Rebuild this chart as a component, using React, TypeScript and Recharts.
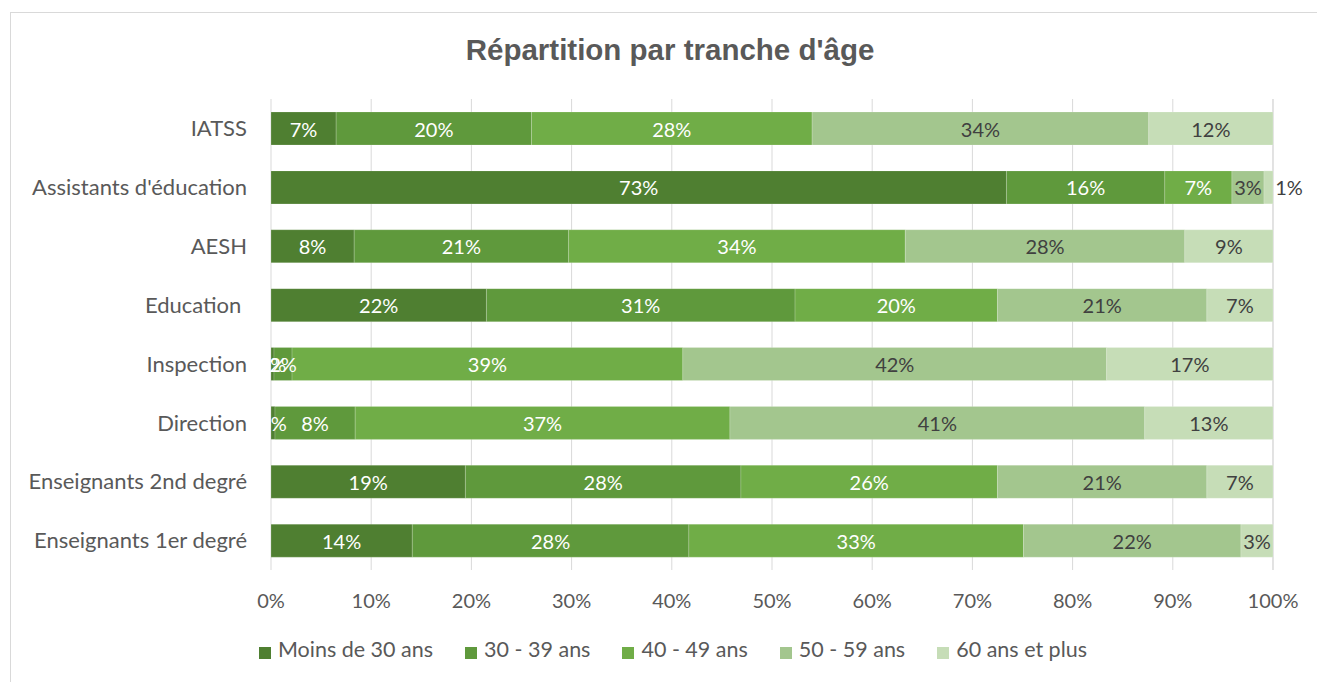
import { BarChart, Bar, XAxis, YAxis, CartesianGrid, Legend, LabelList } from 'recharts';

const categories = [
  'IATSS',
  "Assistants d'éducation",
  'AESH',
  'Education\u00a0',
  'Inspection',
  'Direction',
  'Enseignants 2nd degré',
  'Enseignants 1er degré',
];

const moins30 = [6.5, 73.4, 8.3, 21.5, 0.3, 0.4, 19.4, 14.1];
const ans30a39 = [19.5, 15.8, 21.4, 30.8, 1.8, 8.0, 27.5, 27.6];
const ans40a49 = [28.0, 6.7, 33.6, 20.2, 39.0, 37.4, 25.6, 33.4];
const ans50a59 = [33.6, 3.2, 27.9, 20.9, 42.3, 41.4, 20.9, 21.7];
const ans60plus = [12.4, 0.9, 8.8, 6.6, 16.6, 12.8, 6.6, 3.2];

const xTicks = [0, 10, 20, 30, 40, 50, 60, 70, 80, 90, 100];

const SERIES = [
  { key: 'moins30', name: 'Moins de 30 ans', values: moins30, color: '#4F7F31', label: '#ffffff' },
  { key: 'a30', name: '30 - 39 ans', values: ans30a39, color: '#5F993C', label: '#ffffff' },
  { key: 'a40', name: '40 - 49 ans', values: ans40a49, color: '#70AD47', label: '#ffffff' },
  { key: 'a50', name: '50 - 59 ans', values: ans50a59, color: '#A3C68E', label: '#404040' },
  { key: 'a60', name: '60 ans et plus', values: ans60plus, color: '#C6DDB7', label: '#404040' },
];

const data = categories.map((cat, i) => {
  const row: Record<string, string | number> = { cat };
  SERIES.forEach((s) => { row[s.key] = s.values[i]; });
  return row;
});

const FONT = 'Lato, "Open Sans", sans-serif';
const TEXT = '#595959';

const pct = (v: number) => `${Math.round(v)}%`;

// centred value label; very thin segments of the last series get nudged right
const makeLabel = (fill: string, nudge: boolean) => (props: any) => {
  const { x, y, width, height, value } = props;
  let cx = Number(x) + Number(width) / 2;
  if (nudge && Number(width) < 12) cx = Number(x) + Number(width) + 16;
  return (
    <text x={cx} y={Number(y) + Number(height) / 2} fill={fill} fontSize={20} fontFamily={FONT}
      textAnchor="middle" dominantBaseline="central">
      {pct(Number(value))}
    </text>
  );
};

const legendOrder = (item: any) => SERIES.findIndex((s) => s.name === item.value);

export default function App() {
  return (
    <div style={{ position: 'absolute', left: 10, top: 12, width: 1307, height: 680, borderTop: '1px solid #d9d9d9', borderLeft: '1px solid #d9d9d9', background: '#fff' }}>
      <div style={{ position: 'absolute', top: 20, left: 0, width: 1318, textAlign: 'center', fontFamily: '"Liberation Sans", Arial, sans-serif', fontWeight: 'bold', fontSize: 29.5, color: TEXT }}>
        Répartition par tranche d'âge
      </div>
      <BarChart width={1306} height={668} data={data} layout="vertical" barSize={33}
        margin={{ top: 86, right: 44, left: 0, bottom: 19 }}>
        <CartesianGrid horizontal={false} stroke="#d9d9d9" />
        <XAxis type="number" domain={[0, 100]} ticks={xTicks} tickFormatter={(v) => `${v}%`} height={66}
          axisLine={false} tickLine={false} tickMargin={18} interval={0}
          tick={{ fill: TEXT, fontSize: 20, fontFamily: FONT }} />
        <YAxis type="category" dataKey="cat" width={260} axisLine={false} tickLine={false} tickMargin={18}
          tick={{ fill: TEXT, fontSize: 22, fontFamily: FONT }} />
        <Legend verticalAlign="bottom" align="center" iconType="square" iconSize={12} itemSorter={legendOrder}
          wrapperStyle={{ left: 47 }}
          formatter={(value) => <span style={{ color: TEXT, fontSize: 21.5, fontFamily: FONT, marginRight: 22, paddingLeft: 3 }}>{value}</span>} />
        {SERIES.map((s, i) => (
          <Bar key={s.key} dataKey={s.key} name={s.name} stackId="a" fill={s.color} isAnimationActive={false}
            stroke="#ffffff" strokeOpacity={0.35} strokeWidth={0.5}>
            <LabelList dataKey={s.key} content={makeLabel(s.label, i === SERIES.length - 1)} />
          </Bar>
        ))}
      </BarChart>
    </div>
  );
}
